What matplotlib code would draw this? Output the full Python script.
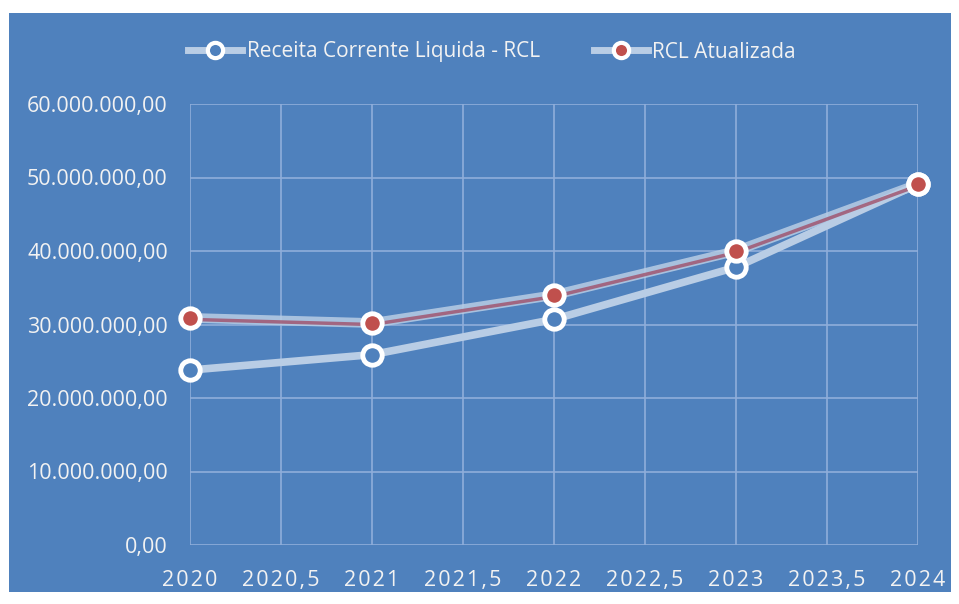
import matplotlib
matplotlib.use("Agg")
import matplotlib.pyplot as plt
import matplotlib.transforms as mtransforms
from matplotlib.patches import Rectangle
from matplotlib.ticker import FuncFormatter, MultipleLocator
from matplotlib.lines import Line2D

years = [2020, 2021, 2022, 2023, 2024]
rcl = [23.8e6, 25.9e6, 30.7e6, 37.8e6, 49.1e6]
rcl_atual = [30.9e6, 30.2e6, 34.0e6, 40.0e6, 49.1e6]
labels = ["Receita Corrente Liquida - RCL", "RCL Atualizada"]

BG = "#4F81BD"
GRID = "#8FAEDA"
TXT = "#F2F2F2"
PALE = "#B9CDE5"
RED = "#C0504D"

plt.rcParams['font.family'] = ['Open Sans', 'DejaVu Sans']

W, H = 959, 604
fig = plt.figure(figsize=(W/100, H/100), dpi=100, facecolor="white")
bgrect = Rectangle((9/W, 1-592/H), (951-9)/W, (592-13)/H,
                   transform=fig.transFigure, facecolor=BG,
                   edgecolor="none", zorder=-10)
fig.add_artist(bgrect)

ax = fig.add_axes([190/W, 1-545/H, (918-190)/W, (545-104)/H])
ax.set_zorder(1)
ax.patch.set_visible(False)
for s in ax.spines.values():
    s.set_visible(False)

ax.set_xlim(2020, 2024)
ax.set_ylim(0, 60e6)
ax.xaxis.set_major_locator(MultipleLocator(0.5))
ax.yaxis.set_major_locator(MultipleLocator(10e6))
ax.grid(True, color=GRID, linewidth=1.2)
ax.set_axisbelow(True)

def yfmt(v, pos):
    s = f"{v:,.2f}"
    return s.replace(",", "X").replace(".", ",").replace("X", ".")
def xfmt(v, pos):
    if abs(v - round(v)) < 1e-9:
        s = f"{int(round(v))}"
    else:
        s = f"{v:.1f}".replace(".", ",")
    return "\u200a".join(s)
ax.yaxis.set_major_formatter(FuncFormatter(yfmt))
ax.xaxis.set_major_formatter(FuncFormatter(xfmt))
ax.tick_params(axis='y', length=0, colors=TXT, labelsize=15.5, pad=16)
ax.tick_params(axis='x', length=0, colors=TXT, labelsize=15.5, pad=18)

# RCL line
ax.plot(years, rcl, color=PALE, linewidth=5.5, solid_capstyle='round', zorder=3,
        clip_on=False)
ax.plot(years, rcl, linestyle='none', marker='o', markersize=14,
        markerfacecolor=BG, markeredgecolor="white", markeredgewidth=3.5, zorder=5,
        clip_on=False)

# RCL Atualizada line (red core with pale glow)
off = mtransforms.offset_copy(ax.transData, fig=fig, x=0, y=-1.5, units='dots')
ax.plot(years, rcl_atual, color=PALE, linewidth=7, alpha=0.85,
        solid_capstyle='round', zorder=3, clip_on=False)
ax.plot(years, rcl_atual, color="#A0506A", linewidth=2.5, alpha=0.8,
        transform=off, zorder=4, clip_on=False)
ax.plot(years, rcl_atual, linestyle='none', marker='o', markersize=14,
        markerfacecolor=RED, markeredgecolor="white", markeredgewidth=3.5, zorder=5,
        clip_on=False)

# Legend
h1 = Line2D([], [], color=PALE, linewidth=5, marker='o', markersize=11,
            markerfacecolor=BG, markeredgecolor="white", markeredgewidth=3)
h2 = Line2D([], [], color=PALE, linewidth=5, marker='o', markersize=11,
            markerfacecolor=RED, markeredgecolor="white", markeredgewidth=3)
leg = fig.legend([h1, h2], labels, loc='center', bbox_to_anchor=(492/W, 1-52/H),
                 ncol=2, frameon=False, fontsize=15, labelcolor=TXT,
                 handlelength=2.6, handletextpad=0.2, columnspacing=2.6)

fig.savefig("out.png", dpi=100, facecolor="white")
